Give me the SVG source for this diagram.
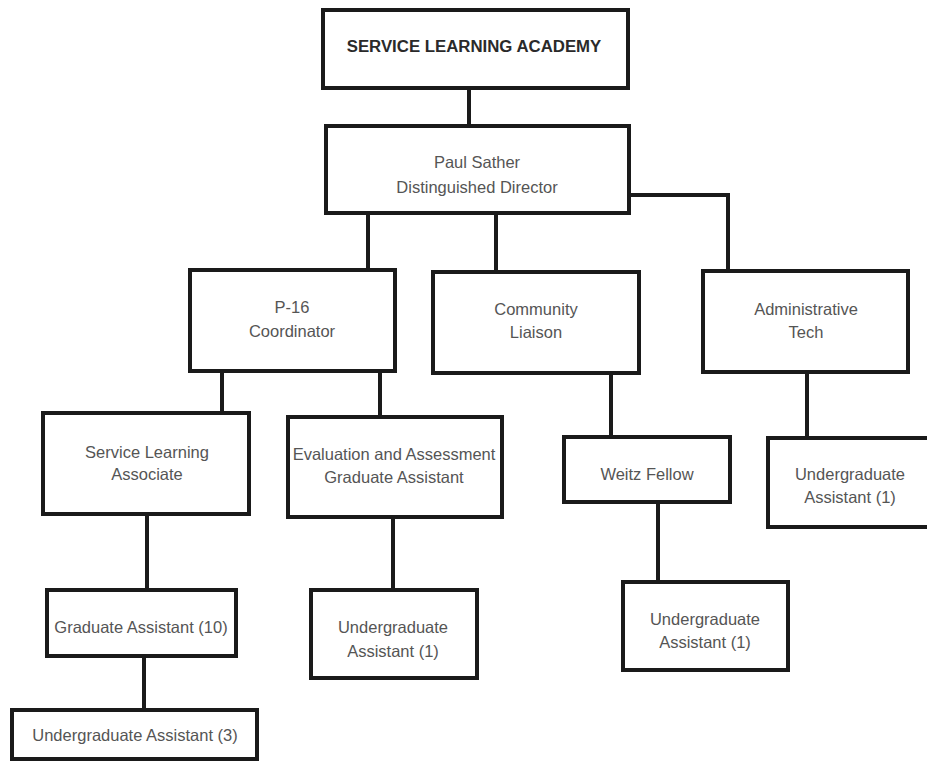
<svg xmlns="http://www.w3.org/2000/svg" width="927" height="762" viewBox="0 0 927 762">
<style>
.box{fill:#fff;stroke:#1a1a1a;stroke-width:4}
.ln{fill:none;stroke:#1a1a1a;stroke-width:4}
text{font-family:"Liberation Sans",Arial,sans-serif;font-size:16.5px;fill:#555;text-anchor:middle}
.title{font-weight:bold;font-size:16.8px;fill:#2a2a2a}
</style>
<rect width="927" height="762" fill="#fff"/>
<g id="connectors">
<line class="ln" x1="469" y1="88" x2="469" y2="126"/>
<line class="ln" x1="368" y1="213" x2="368" y2="270"/>
<line class="ln" x1="496" y1="213" x2="496" y2="272"/>
<polyline class="ln" points="629,195 728,195 728,271"/>
<line class="ln" x1="222" y1="371" x2="222" y2="413"/>
<line class="ln" x1="380" y1="371" x2="380" y2="417"/>
<line class="ln" x1="611" y1="373" x2="611" y2="437"/>
<line class="ln" x1="807" y1="372" x2="807" y2="438"/>
<line class="ln" x1="147" y1="514" x2="147" y2="590"/>
<line class="ln" x1="393" y1="517" x2="393" y2="590"/>
<line class="ln" x1="658" y1="502" x2="658" y2="582"/>
<line class="ln" x1="144" y1="656" x2="144" y2="710"/>
</g>
<g id="academy"><rect class="box" x="323" y="10" width="305" height="78"/><text class="title" x="474" y="52">SERVICE LEARNING ACADEMY</text></g>
<g id="director"><rect class="box" x="326" y="126" width="303" height="87"/><text x="477" y="168">Paul Sather</text><text x="477" y="193">Distinguished Director</text></g>
<g id="p16"><rect class="box" x="190" y="270" width="205" height="101"/><text x="292" y="313">P-16</text><text x="292" y="337">Coordinator</text></g>
<g id="liaison"><rect class="box" x="433" y="272" width="206" height="101"/><text x="536" y="315">Community</text><text x="536" y="338">Liaison</text></g>
<g id="admin"><rect class="box" x="703" y="271" width="205" height="101"/><text x="806" y="315">Administrative</text><text x="806" y="338">Tech</text></g>
<g id="sla"><rect class="box" x="43" y="413" width="206" height="101"/><text x="147" y="458">Service Learning</text><text x="147" y="480">Associate</text></g>
<g id="eval"><rect class="box" x="288" y="417" width="214" height="100"/><text x="394" y="460">Evaluation and Assessment</text><text x="394" y="483">Graduate Assistant</text></g>
<g id="weitz"><rect class="box" x="564" y="437" width="166" height="65"/><text x="647" y="480">Weitz Fellow</text></g>
<g id="ua-admin"><rect class="box" x="768" y="438" width="164" height="89"/><text x="850" y="480">Undergraduate</text><text x="850" y="503">Assistant (1)</text></g>
<g id="ga"><rect class="box" x="47" y="590" width="189" height="66"/><text x="141" y="633">Graduate Assistant (10)</text></g>
<g id="ua-eval"><rect class="box" x="311" y="590" width="166" height="88"/><text x="393" y="633">Undergraduate</text><text x="393" y="657">Assistant (1)</text></g>
<g id="ua-weitz"><rect class="box" x="623" y="582" width="165" height="88"/><text x="705" y="625">Undergraduate</text><text x="705" y="648">Assistant (1)</text></g>
<g id="ua3"><rect class="box" x="12" y="710" width="245" height="49"/><text x="135" y="741">Undergraduate Assistant (3)</text></g>
</svg>
